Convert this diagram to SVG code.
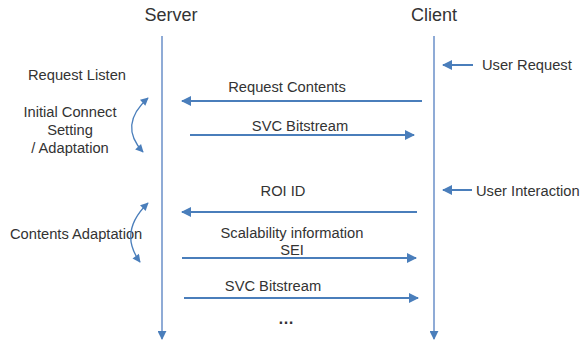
<svg xmlns="http://www.w3.org/2000/svg" width="586" height="342" viewBox="0 0 586 342">
<defs>
<marker id="ah" viewBox="0 0 10 10" refX="9" refY="5" markerWidth="10" markerHeight="8" orient="auto-start-reverse" markerUnits="userSpaceOnUse">
<path d="M0,0 L10,5 L0,10 z" fill="#4a7ebb"/>
</marker>
<marker id="ah2" viewBox="0 0 10 10" refX="9" refY="5" markerWidth="12" markerHeight="10" orient="auto-start-reverse" markerUnits="userSpaceOnUse">
<path d="M0,0 L10,5 L0,10 z" fill="#4a7ebb"/>
</marker>
<marker id="ah3" viewBox="0 0 10 10" refX="9" refY="5" markerWidth="9" markerHeight="9" orient="auto-start-reverse" markerUnits="userSpaceOnUse">
<path d="M0,0 L10,5 L0,10 z" fill="#4a7ebb"/>
</marker>
</defs>
<style>
text{font-family:"Liberation Sans",Arial,sans-serif;fill:#333;}
.h{font-size:18px;}
.t{font-size:14.7px;}
.life{stroke:#6a8fc8;stroke-width:1.5;fill:none;}
.msg{stroke:#4a7ebb;stroke-width:2;fill:none;}
.cur{stroke:#4a7ebb;stroke-width:1.3;fill:none;}
</style>
<rect width="586" height="342" fill="#fff"/>
<g id="server">
<text class="h" x="171" y="21" text-anchor="middle">Server</text>
<line class="life" x1="162" y1="36" x2="162" y2="339" marker-end="url(#ah3)"/>
</g>
<g id="client">
<text class="h" x="434" y="21" text-anchor="middle">Client</text>
<line class="life" x1="434" y1="36" x2="434" y2="339" marker-end="url(#ah3)"/>
</g>
<g id="server-notes">
<text class="t" x="77" y="80" text-anchor="middle">Request Listen</text>
<text class="t" x="70" y="117" text-anchor="middle">Initial Connect</text>
<text class="t" x="70" y="135" text-anchor="middle">Setting</text>
<text class="t" x="70" y="153" text-anchor="middle">/ Adaptation</text>
<text class="t" x="10" y="239">Contents Adaptation</text>
</g>
<g id="client-notes">
<text class="t" x="482" y="70">User Request</text>
<text class="t" x="476" y="196">User Interaction</text>
</g>
<g id="labels">
<text class="t" x="287" y="92" text-anchor="middle">Request Contents</text>
<text class="t" x="300" y="131" text-anchor="middle">SVC Bitstream</text>
<text class="t" x="283" y="196" text-anchor="middle">ROI ID</text>
<text class="t" x="292" y="238" text-anchor="middle">Scalability information</text>
<text class="t" x="292" y="255" text-anchor="middle">SEI</text>
<text class="t" x="273" y="291" text-anchor="middle">SVC Bitstream</text>
<text class="t" x="286" y="324" text-anchor="middle" style="font-size:16px;font-weight:bold">…</text>
</g>
<g id="connectors">
<line class="msg" x1="422" y1="101" x2="182" y2="101" marker-end="url(#ah2)"/>
<line class="msg" x1="190" y1="135" x2="414" y2="135" marker-end="url(#ah2)"/>
<line class="msg" x1="473" y1="65" x2="443" y2="65" marker-end="url(#ah2)"/>
<line class="msg" x1="472" y1="190" x2="443" y2="190" marker-end="url(#ah2)"/>
<line class="msg" x1="417" y1="212" x2="182" y2="212" marker-end="url(#ah2)"/>
<line class="msg" x1="182" y1="258" x2="416" y2="258" marker-end="url(#ah2)"/>
<line class="msg" x1="184" y1="298" x2="418" y2="298" marker-end="url(#ah2)"/>
<path class="cur" d="M148,98 Q118,125 143,152" marker-start="url(#ah)" marker-end="url(#ah)"/>
<path class="cur" d="M148,203 Q118,232 140,262" marker-start="url(#ah)" marker-end="url(#ah)"/>
</g>
</svg>
